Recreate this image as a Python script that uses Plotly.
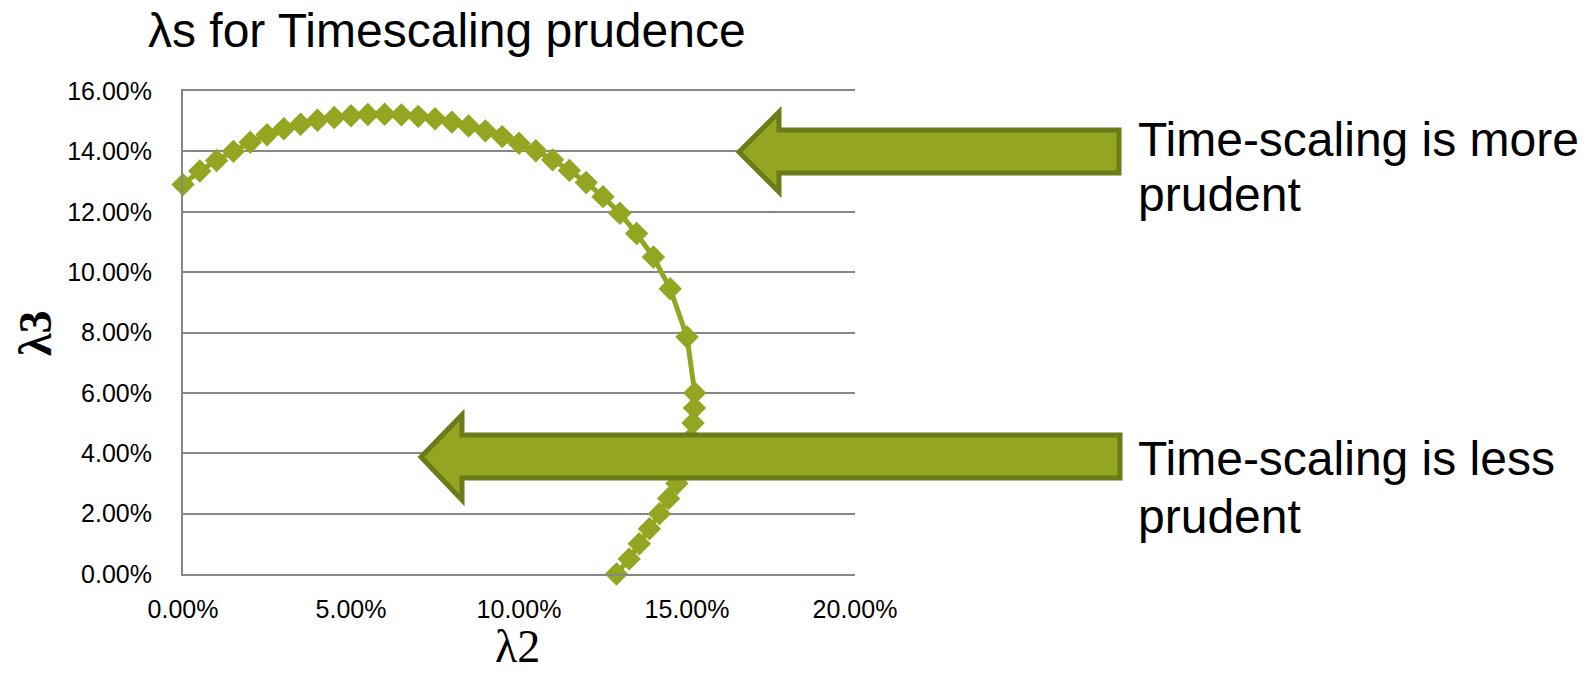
import plotly.graph_objects as go

# lambda2 / lambda3 pairs (fractions) along the prudence boundary
lam2 = [0.000, 0.005, 0.010, 0.015, 0.020, 0.025, 0.030, 0.035, 0.040, 0.045,
        0.050, 0.055, 0.060, 0.065, 0.070, 0.075, 0.080, 0.085, 0.090, 0.095,
        0.100, 0.105, 0.110, 0.115, 0.120, 0.125, 0.130, 0.135, 0.140, 0.145,
        0.150,
        0.1523, 0.1522, 0.1518, 0.1512, 0.1502, 0.1488, 0.1470, 0.1445, 0.1418,
        0.1388, 0.1358, 0.1328, 0.1290]
lam3 = [0.1290, 0.1335, 0.1370, 0.1400, 0.1430, 0.1455, 0.1475, 0.1490, 0.1503, 0.1512,
        0.1518, 0.1522, 0.1523, 0.1521, 0.1516, 0.1508, 0.1497, 0.1484, 0.1468, 0.1449,
        0.1427, 0.1402, 0.1372, 0.1337, 0.1297, 0.1250, 0.1195, 0.1128, 0.1050, 0.0945,
        0.0785,
        0.060, 0.055, 0.050, 0.045, 0.040, 0.035, 0.030, 0.025, 0.020,
        0.015, 0.010, 0.005, 0.000]

x_ticks = [0.00, 0.05, 0.10, 0.15, 0.20]
y_ticks = [0.00, 0.02, 0.04, 0.06, 0.08, 0.10, 0.12, 0.14, 0.16]

title_text = "λs for Timescaling prudence"
x_title = "λ2"
y_title = "λ3"
note_more = ["Time-scaling is more", "prudent"]
note_less = ["Time-scaling is less", "prudent"]

GREEN = "#93A521"
DARK = "#6C7A18"
GRID = "#878787"
SANS = "Liberation Sans, Arial, sans-serif"
SERIF = "Liberation Serif, Times New Roman, serif"

W, H = 1585, 679
L, R, T, B = 183, 855, 91, 574  # plot area edges in pixels


def px(xp):
    return (xp - L) / (R - L)


def py(yp):
    return (B - yp) / (B - T)


def arrow_path(tip_x, tip_y, head_x, head_top, head_bot, body_top, body_bot, right):
    pts = [(tip_x, tip_y), (head_x, head_top), (head_x, body_top), (right, body_top),
           (right, body_bot), (head_x, body_bot), (head_x, head_bot)]
    return "M " + " L ".join(f"{px(a):.5f},{py(b):.5f}" for a, b in pts) + " Z"


fig = go.Figure()
fig.add_trace(go.Scatter(
    x=lam2, y=lam3, mode="lines+markers",
    line=dict(color=GREEN, width=5),
    marker=dict(symbol="diamond", size=18, color=GREEN, line=dict(width=0)),
    cliponaxis=False, showlegend=False,
))

arrows = [
    arrow_path(739, 152, 779, 112, 192, 130, 173, 1119),
    arrow_path(421, 457, 462, 415, 500, 435, 478, 1120),
]
shapes = [dict(type="path", path=p, xref="paper", yref="paper",
               fillcolor=GREEN, line=dict(color=DARK, width=5), layer="above")
          for p in arrows]

annotations = [
    dict(text=title_text, x=px(447), y=py(31), font=dict(family=SANS, size=48, color="black")),
    dict(text=x_title, x=px(517), y=py(646), font=dict(family=SERIF, size=46, color="black")),
    dict(text=f"<b>{y_title}</b>", x=px(35), y=py(333), textangle=-90,
         font=dict(family=SERIF, size=46, color="black")),
]
for txt, yc in zip(note_more + note_less, [139, 194, 458, 516]):
    annotations.append(dict(text=txt, x=px(1136), y=py(yc), xanchor="left",
                            font=dict(family=SANS, size=48, color="black")))
for a in annotations:
    a.update(xref="paper", yref="paper", showarrow=False)
    a.setdefault("xanchor", "center")
    a.setdefault("yanchor", "middle")

fig.update_layout(
    width=W, height=H,
    margin=dict(l=L, r=W - R, t=T, b=H - B, pad=0),
    paper_bgcolor="white", plot_bgcolor="white",
    shapes=shapes, annotations=annotations,
    xaxis=dict(range=[0, 0.2], tickvals=x_ticks, tickformat=".2%",
               showgrid=False, zeroline=False, showline=True, mirror=True,
               linecolor=GRID, linewidth=2, ticks="", ticklabelstandoff=12,
               tickfont=dict(family=SANS, size=25, color="black")),
    yaxis=dict(range=[0, 0.16], tickvals=y_ticks, tickformat=".2%",
               showgrid=True, gridcolor=GRID, gridwidth=2, zeroline=False,
               showline=True, linecolor=GRID, linewidth=2, ticks="",
               ticklabelstandoff=24,
               tickfont=dict(family=SANS, size=25, color="black")),
)

fig.write_html("out.html")
